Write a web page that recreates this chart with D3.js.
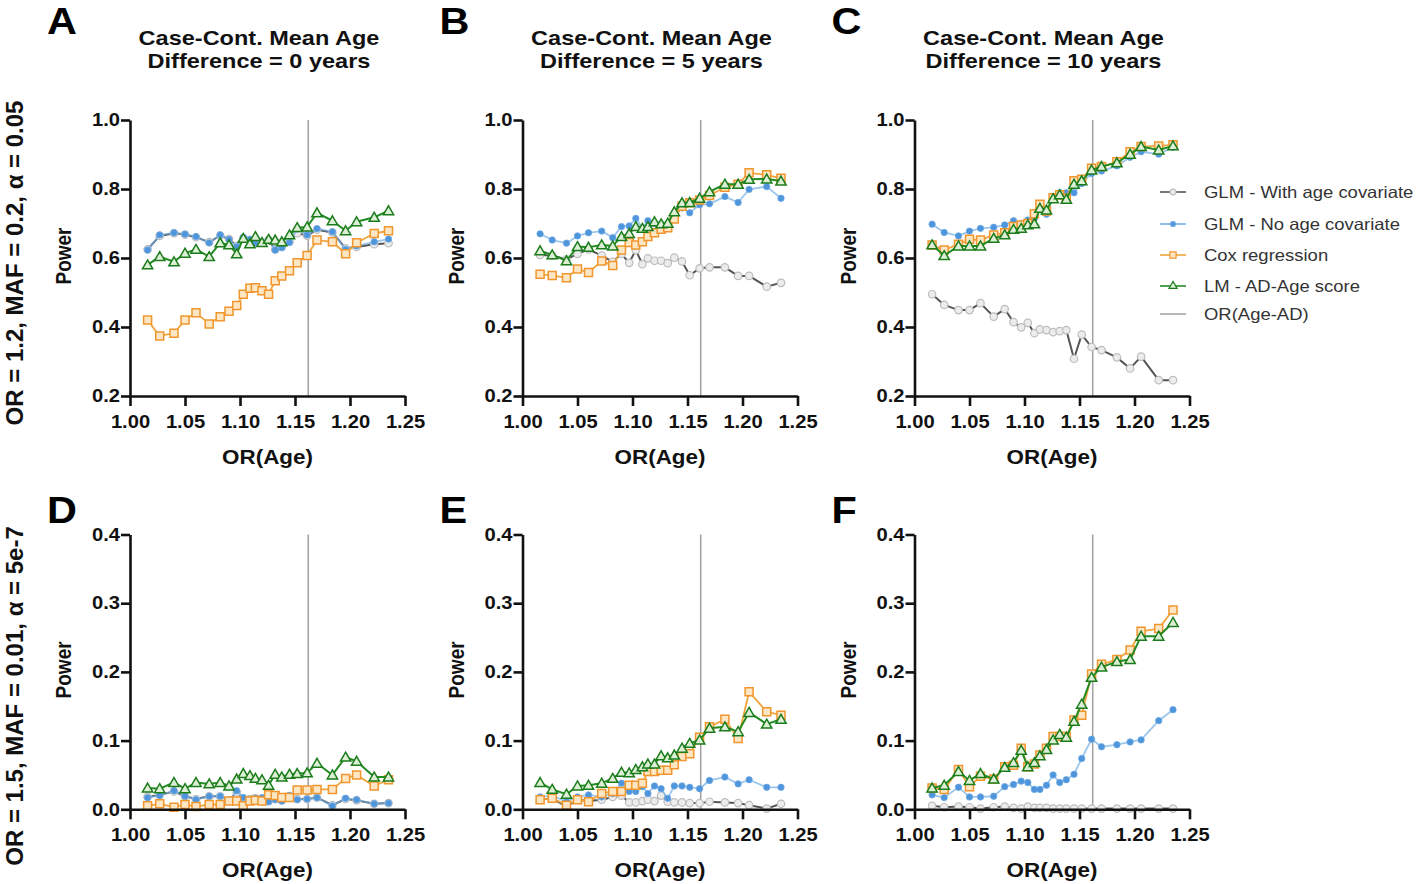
<!DOCTYPE html>
<html><head><meta charset="utf-8">
<script src="https://cdn.jsdelivr.net/npm/d3@7"></script>
<style>body{margin:0;background:#fff}svg{display:block}</style>
</head><body><svg id="c" width="1418" height="884"></svg>
<script>
// ---------- data ----------
const orAge = [1.016,1.027,1.040,1.050,1.060,1.072,1.082,1.090,1.097,1.103,1.109,1.114,1.120,1.126,1.132,1.138,1.145,1.152,1.161,1.170,1.184,1.196,1.206,1.222,1.235];
const orAgeAD = 1.162;
const xTicks = [1.00,1.05,1.10,1.15,1.20,1.25];
const yTicksTop = [0.2,0.4,0.6,0.8,1.0];
const yTicksBottom = [0.0,0.1,0.2,0.3,0.4];
const panelLetters = ["A","B","C","D","E","F"];
const ageDiffs = [0,5,10];
const rowLabels = ["OR = 1.2, MAF = 0.2, \u03b1 = 0.05","OR = 1.5, MAF = 0.01, \u03b1 = 5e-7"];
const seriesNames = ["GLM - With age covariate","GLM - No age covariate","Cox regression","LM - AD-Age score","OR(Age-AD)"];

// Panel A
const glmAgeA   = [0.625,0.664,0.672,0.668,0.660,0.646,0.665,0.655,0.635,0.657,0.652,0.645,0.645,0.652,0.625,0.632,0.648,0.672,0.665,0.682,0.674,0.628,0.632,0.640,0.643];
const glmNoAgeA = [0.623,0.667,0.673,0.669,0.662,0.644,0.667,0.654,0.633,0.660,0.654,0.643,0.643,0.654,0.623,0.630,0.645,0.684,0.667,0.685,0.676,0.625,0.635,0.647,0.655];
const coxA      = [0.420,0.374,0.382,0.420,0.441,0.409,0.430,0.446,0.462,0.495,0.512,0.514,0.505,0.495,0.534,0.548,0.563,0.586,0.607,0.652,0.647,0.612,0.644,0.671,0.679];
const lmA       = [0.580,0.604,0.589,0.614,0.625,0.604,0.644,0.638,0.612,0.657,0.641,0.662,0.645,0.654,0.652,0.647,0.667,0.688,0.690,0.731,0.708,0.679,0.705,0.718,0.737];
// Panel B
const glmAgeB   = [0.609,0.607,0.596,0.612,0.625,0.607,0.589,0.612,0.586,0.623,0.582,0.599,0.592,0.592,0.585,0.601,0.590,0.550,0.570,0.573,0.573,0.548,0.548,0.517,0.528];
const glmNoAgeB = [0.670,0.652,0.643,0.664,0.673,0.678,0.659,0.691,0.693,0.715,0.686,0.708,0.700,0.698,0.699,0.727,0.745,0.731,0.754,0.757,0.778,0.761,0.799,0.807,0.773];
const coxB      = [0.553,0.549,0.543,0.568,0.558,0.591,0.578,0.623,0.645,0.638,0.647,0.662,0.673,0.683,0.688,0.713,0.750,0.760,0.768,0.781,0.805,0.814,0.847,0.841,0.831];
const lmB       = [0.621,0.609,0.592,0.633,0.631,0.638,0.635,0.662,0.671,0.691,0.686,0.691,0.705,0.699,0.701,0.734,0.760,0.761,0.773,0.792,0.814,0.814,0.828,0.829,0.823];
// Panel C
const glmAgeC   = [0.495,0.464,0.449,0.449,0.469,0.430,0.452,0.414,0.399,0.412,0.382,0.393,0.391,0.385,0.388,0.391,0.308,0.378,0.342,0.333,0.312,0.280,0.314,0.246,0.246];
const glmNoAgeC = [0.698,0.674,0.664,0.678,0.686,0.689,0.696,0.708,0.700,0.710,0.715,0.749,0.727,0.775,0.789,0.789,0.789,0.816,0.845,0.852,0.867,0.892,0.908,0.901,0.921];
const coxC      = [0.638,0.623,0.640,0.654,0.652,0.667,0.673,0.691,0.696,0.700,0.728,0.756,0.736,0.775,0.783,0.773,0.824,0.828,0.860,0.865,0.879,0.908,0.923,0.925,0.928];
const lmC       = [0.638,0.607,0.635,0.635,0.635,0.657,0.667,0.683,0.686,0.696,0.699,0.744,0.739,0.772,0.783,0.770,0.814,0.824,0.855,0.865,0.876,0.901,0.923,0.913,0.925];
// Panel D
const glmAgeD   = [0.018,0.021,0.026,0.019,0.015,0.019,0.019,0.013,0.025,0.016,0.015,0.016,0.015,0.012,0.015,0.013,0.019,0.015,0.015,0.017,0.006,0.015,0.013,0.008,0.009];
const glmNoAgeD = [0.017,0.020,0.027,0.019,0.014,0.019,0.019,0.012,0.027,0.017,0.014,0.016,0.017,0.011,0.014,0.012,0.020,0.014,0.015,0.017,0.005,0.016,0.014,0.008,0.009];
const coxD      = [0.005,0.008,0.003,0.007,0.004,0.007,0.007,0.012,0.012,0.005,0.012,0.013,0.012,0.021,0.020,0.017,0.017,0.028,0.028,0.029,0.029,0.045,0.050,0.034,0.043];
const lmD       = [0.031,0.030,0.039,0.030,0.039,0.037,0.039,0.034,0.044,0.052,0.049,0.045,0.043,0.035,0.051,0.047,0.051,0.052,0.053,0.067,0.050,0.076,0.070,0.047,0.047];
// Panel E
const glmAgeE   = [0.014,0.016,0.004,0.014,0.012,0.014,0.018,0.020,0.010,0.010,0.012,0.014,0.012,0.020,0.011,0.010,0.010,0.009,0.009,0.011,0.010,0.009,0.006,0.001,0.008];
const glmNoAgeE = [0.018,0.020,0.011,0.018,0.021,0.018,0.023,0.038,0.026,0.026,0.033,0.023,0.034,0.030,0.016,0.034,0.034,0.032,0.030,0.042,0.047,0.037,0.043,0.032,0.032];
const coxE      = [0.014,0.016,0.006,0.014,0.011,0.023,0.026,0.026,0.035,0.035,0.038,0.055,0.055,0.057,0.057,0.065,0.077,0.081,0.105,0.120,0.131,0.103,0.171,0.142,0.137];
const lmE       = [0.039,0.029,0.022,0.034,0.035,0.038,0.045,0.054,0.053,0.058,0.062,0.066,0.066,0.078,0.075,0.079,0.089,0.096,0.101,0.118,0.120,0.113,0.141,0.124,0.131];
// Panel F
const glmAgeF   = [0.005,0.003,0.004,0.003,0.001,0.003,0.004,0.002,0.001,0.004,0.002,0.002,0.002,0.001,0.001,0.001,0.001,0.001,0.001,0.001,0.001,0.001,0.001,0.001,0.001];
const glmNoAgeF = [0.021,0.017,0.032,0.018,0.018,0.019,0.033,0.036,0.041,0.039,0.029,0.029,0.035,0.050,0.039,0.043,0.051,0.074,0.102,0.091,0.094,0.098,0.101,0.129,0.145];
const coxF      = [0.031,0.029,0.058,0.033,0.048,0.044,0.062,0.064,0.089,0.062,0.066,0.079,0.089,0.106,0.106,0.106,0.130,0.137,0.197,0.211,0.218,0.232,0.259,0.263,0.290];
const lmF       = [0.031,0.035,0.055,0.042,0.052,0.044,0.061,0.068,0.086,0.062,0.068,0.078,0.087,0.101,0.109,0.105,0.128,0.153,0.192,0.207,0.215,0.218,0.252,0.252,0.272];

// ---------- layout / style ----------
const SX = 1.12;                 // horizontal text stretch of original figure
const FONT = "Arial, 'Liberation Sans', Helvetica, sans-serif";
const colX0 = [130, 522.5, 914.5];
const plotW = 275;
const rowY = [{top:120, bottom:396, domain:[0.2,1.0], ticks:yTicksTop},
              {top:534.5, bottom:809.3, domain:[0.0,0.4], ticks:yTicksBottom}];

const styles = [
  {name:seriesNames[0], line:"#555", lw:2,   lo:1,    sym:d3.symbolCircle,   size:44, fill:"#ececec", stroke:"#bdbdbd", sw:1.2},
  {name:seriesNames[1], line:"#74aee6", lw:1.8, lo:0.7, sym:d3.symbolCircle, size:32, fill:"#4f95dc", stroke:"#6aa8e4", sw:0.8},
  {name:seriesNames[2], line:"#f0a43c", lw:1.8, lo:1,  sym:d3.symbolSquare, size:64, fill:"#fde6c4", stroke:"#f0962c", sw:1.5},
  {name:seriesNames[3], line:"#228b22", lw:2,   lo:1,  sym:d3.symbolTriangle, size:46, fill:"#dcefd4", stroke:"#1c7c1c", sw:1.5}
];
const drawOrder = [0,1,2,3];

const panels = [
  {series:[glmAgeA,glmNoAgeA,coxA,lmA], row:0, col:0},
  {series:[glmAgeB,glmNoAgeB,coxB,lmB], row:0, col:1},
  {series:[glmAgeC,glmNoAgeC,coxC,lmC], row:0, col:2},
  {series:[glmAgeD,glmNoAgeD,coxD,lmD], row:1, col:0},
  {series:[glmAgeE,glmNoAgeE,coxE,lmE], row:1, col:1},
  {series:[glmAgeF,glmNoAgeF,coxF,lmF], row:1, col:2}
];

const svg = d3.select("#c");

function htext(g, x, y, str, size, weight, anchor, fill) {
  return g.append("text")
    .attr("transform", `translate(${x},${y}) scale(${SX},1)`)
    .attr("text-anchor", anchor || "start")
    .attr("font-family", FONT)
    .attr("font-size", size)
    .attr("font-weight", weight || "normal")
    .attr("fill", fill || "#111")
    .text(str);
}
function vtext(g, x, y, str, size, weight, stretch) {
  return g.append("text")
    .attr("transform", `translate(${x},${y}) rotate(-90) scale(1,${stretch})`)
    .attr("text-anchor", "middle")
    .attr("font-family", FONT)
    .attr("font-size", size)
    .attr("font-weight", weight)
    .attr("fill", "#111")
    .text(str);
}

// column titles
ageDiffs.forEach((d, i) => {
  htext(svg, colX0[i] + 129, 45, "Case-Cont. Mean Age", 21, "bold", "middle");
  htext(svg, colX0[i] + 129, 68, `Difference = ${d} years`, 21, "bold", "middle");
});

// row labels
vtext(svg, 23, 263, rowLabels[0], 24, "bold", 1.0);
vtext(svg, 23, 696, rowLabels[1], 24, "bold", 1.0);

panels.forEach((p, idx) => {
  const r = rowY[p.row];
  const x0 = colX0[p.col];
  const x = d3.scaleLinear().domain([1.00, 1.25]).range([x0, x0 + plotW]);
  const y = d3.scaleLinear().domain(r.domain).range([r.bottom, r.top]);
  const g = svg.append("g");

  // panel letter
  const letterY = p.row === 0 ? 34 : 523;
  htext(g, x0 - 83, letterY, panelLetters[idx], 37, "bold", "start", "#000");

  // reference vertical line OR(Age-AD)
  g.append("line")
    .attr("x1", x(orAgeAD)).attr("x2", x(orAgeAD))
    .attr("y1", r.top).attr("y2", r.bottom)
    .attr("stroke", "#a0a0a0").attr("stroke-width", 1.5);

  // series
  drawOrder.forEach(si => {
    const st = styles[si];
    const vals = p.series[si];
    const pts = orAge.map((o, k) => [o, vals[k]]);
    g.append("path").datum(pts)
      .attr("fill", "none").attr("stroke", st.line).attr("stroke-width", st.lw)
      .attr("stroke-opacity", st.lo)
      .attr("stroke-linejoin", "round")
      .attr("d", d3.line().x(d => x(d[0])).y(d => y(d[1])));
    g.selectAll(null).data(pts).enter().append("path")
      .attr("transform", d => `translate(${x(d[0])},${y(d[1]) + (si===3?1:0)})`)
      .attr("d", d3.symbol().type(st.sym).size(st.size))
      .attr("fill", st.fill).attr("stroke", st.stroke).attr("stroke-width", st.sw);
  });

  // axes
  const fmtY = d3.format(".1f"), fmtX = d3.format(".2f");
  const ya = g.append("g").attr("transform", `translate(${x0},0)`)
    .call(d3.axisLeft(y).tickValues(r.ticks).tickFormat(fmtY).tickSize(9).tickSizeOuter(0).tickPadding(1));
  const xa = g.append("g").attr("transform", `translate(0,${r.bottom})`)
    .call(d3.axisBottom(x).tickValues(xTicks).tickFormat(fmtX).tickSize(10).tickSizeOuter(0).tickPadding(9));
  [ya, xa].forEach(a => {
    a.select(".domain").attr("stroke", "#111").attr("stroke-width", 2.6);
    a.selectAll(".tick line").attr("stroke", "#111").attr("stroke-width", 2.6);
    a.selectAll(".tick text").attr("font-family", FONT).attr("font-size", 18)
      .attr("font-weight", "bold").attr("fill", "#111");
  });
  ya.selectAll(".tick text").each(function() {
    const t = d3.select(this); const tx = +t.attr("x");
    t.attr("x", 0).attr("transform", `translate(${tx},0) scale(${SX},1)`);
  });
  xa.selectAll(".tick text").attr("transform", `scale(${SX},1)`);

  // axis titles
  vtext(g, x0 - 59, (r.top + r.bottom) / 2 - 2, "Power", 19, "bold", SX);
  htext(g, x0 + plotW / 2, r.bottom + 68, "OR(Age)", 20, "bold", "middle");
});

// legend
const lg = svg.append("g");
const legY = [192, 224, 255, 286, 314];
legY.forEach((ly, i) => {
  if (i < 4) {
    const st = styles[i];
    lg.append("line").attr("x1", 1160).attr("x2", 1186).attr("y1", ly).attr("y2", ly)
      .attr("stroke", st.line).attr("stroke-width", 1.6);
    lg.append("path").attr("transform", `translate(1173,${ly})`)
      .attr("d", d3.symbol().type(st.sym).size(st.size * 0.6))
      .attr("fill", st.fill).attr("stroke", st.stroke).attr("stroke-width", 1.2);
  } else {
    lg.append("line").attr("x1", 1160).attr("x2", 1186).attr("y1", ly).attr("y2", ly)
      .attr("stroke", "#a0a0a0").attr("stroke-width", 1.5);
  }
  htext(lg, 1204, ly + 6, seriesNames[i], 16.5, "normal", "start", "#333");
});
</script></body></html>
